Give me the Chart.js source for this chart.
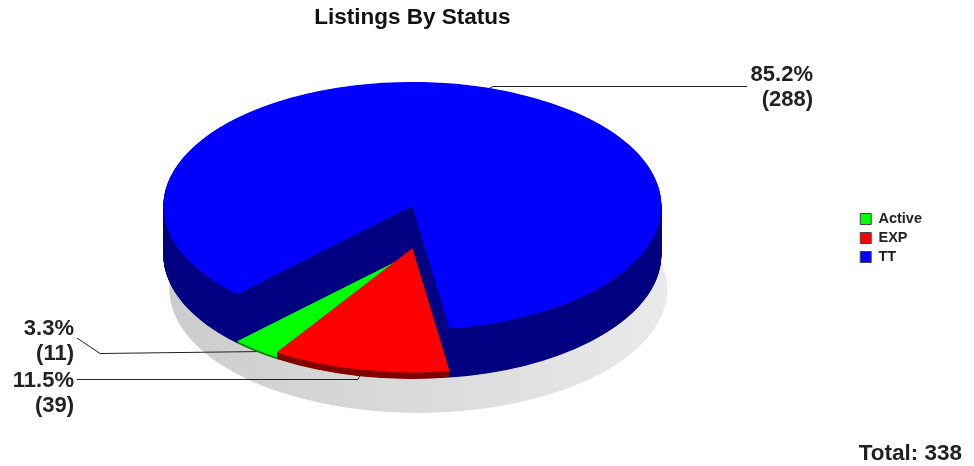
<!DOCTYPE html>
<html>
<head>
<meta charset="utf-8">
<title>Listings By Status</title>
<script src="https://cdn.jsdelivr.net/npm/chart.js@4"></script>
<style>
  html, body { margin: 0; padding: 0; background: #fff; }
  #wrap { position: relative; width: 974px; height: 466px; }
</style>
</head>
<body>
<div id="wrap"><canvas id="chartCanvas"></canvas></div>
<script>
// drawn clockwise from the rotation angle, the legend is reversed to read Active, EXP, TT
const categories = ['TT', 'EXP', 'Active'];
const listingCounts = [288, 39, 11];
const topColors = ['#0000ff', '#ff0000', '#00ff00'];
const sideColors = ['#000080', '#800000', '#008000'];
const totalText = 'Total: 338';

// projection of the pie
const tilt = {cy: 206, rx: 249, ry: 124, depth: 49};
const shadow = {dx: 6, dy: 34};
// painter's order, EXP has to end up over Active
const drawOrder = [0, 2, 1];

// where each label goes, same order as categories
const labelSpots = [
  {right: 813, base: 81, line: [[493, 86.5], [747, 86.5]]},
  {right: 74, base: 387, line: [[358, 379.5], [77, 379.5]]},
  {right: 74, base: 335, line: [[100, 353.5], [77, 338]]},
];
const labelFont = 'bold 22px "Liberation Sans", Arial, sans-serif';

function wedge(ctx, cx, cy, arc) {
  ctx.beginPath();
  ctx.moveTo(cx, cy);
  ctx.ellipse(cx, cy, tilt.rx, tilt.ry, 0, arc.startAngle, arc.endAngle);
  ctx.closePath();
  ctx.fill();
}

const pie3d = {
  id: 'pie3d',
  afterLayout(chart) {
    // the legend sits further right and lower than the space kept for it
    chart.legend.left += 31;
    chart.legend.right += 31;
    chart.legend.top += 3;
    chart.legend.bottom += 3;
  },
  beforeDatasetsDraw(chart) {
    const ctx = chart.ctx;
    const arcs = chart.getDatasetMeta(0).data;
    const cx = arcs[0].x;
    const baseY = tilt.cy + tilt.depth;
    const max = Math.max(...listingCounts);

    // floor shadow
    const grad = ctx.createLinearGradient(cx - tilt.rx, 0, cx + tilt.rx, 0);
    grad.addColorStop(0, '#cccccc');
    grad.addColorStop(1, '#e9e9e9');
    ctx.save();
    ctx.fillStyle = grad;
    ctx.beginPath();
    ctx.ellipse(cx + shadow.dx, baseY + shadow.dy, tilt.rx, tilt.ry, 0, 0, Math.PI * 2);
    ctx.fill();
    ctx.restore();

    // each slice is as tall as its value
    drawOrder.forEach(i => {
      const arc = arcs[i];
      const h = listingCounts[i] / max * tilt.depth;
      ctx.save();
      ctx.fillStyle = sideColors[i];
      for (let d = 0; d < h; d += 0.5) {
        wedge(ctx, cx, baseY - d, arc);
      }
      ctx.translate(cx, baseY - h);
      ctx.scale(tilt.rx / arc.outerRadius, tilt.ry / arc.outerRadius);
      ctx.translate(-arc.x, -arc.y);
      arc.draw(ctx);
      ctx.restore();
    });
    return false;
  },
  afterDraw(chart) {
    const ctx = chart.ctx;
    const arcs = chart.getDatasetMeta(0).data;
    const total = listingCounts.reduce((a, b) => a + b, 0);
    const baseY = tilt.cy + tilt.depth;

    ctx.save();
    arcs.forEach((arc, i) => {
      const spot = labelSpots[i];
      const mid = (arc.startAngle + arc.endAngle) / 2;
      const startY = Math.sin(mid) > 0 ? baseY : tilt.cy;
      ctx.strokeStyle = '#222222';
      ctx.lineWidth = 1;
      ctx.beginPath();
      ctx.moveTo(arc.x + tilt.rx * Math.cos(mid), startY + tilt.ry * Math.sin(mid));
      spot.line.forEach(p => ctx.lineTo(p[0], p[1]));
      ctx.stroke();

      ctx.fillStyle = '#222222';
      ctx.font = labelFont;
      ctx.textAlign = 'right';
      ctx.textBaseline = 'alphabetic';
      ctx.fillText((listingCounts[i] / total * 100).toFixed(1) + '%', spot.right, spot.base);
      ctx.fillText('(' + listingCounts[i] + ')', spot.right, spot.base + 25);
    });
    ctx.font = 'bold 22.5px "Liberation Sans", Arial, sans-serif';
    ctx.fillText(totalText, 962, 460);
    ctx.restore();
  },
};

new Chart(document.getElementById('chartCanvas'), {
  type: 'pie',
  data: {
    labels: categories,
    datasets: [{
      data: listingCounts,
      backgroundColor: topColors,
      borderWidth: 0,
      rotation: 224.7,
    }],
  },
  options: {
    responsive: true,
    maintainAspectRatio: false,
    animation: false,
    layout: {padding: {top: 4, right: 73}},
    plugins: {
      title: {
        display: true,
        text: 'Listings By Status',
        fullSize: false,
        color: '#111111',
        padding: 0,
        font: {family: '"Liberation Sans", Arial, sans-serif', size: 22.5, weight: 'bold'},
      },
      legend: {
        position: 'right',
        reverse: true,
        labels: {
          boxWidth: 11,
          boxHeight: 11,
          padding: 4.5,
          color: '#222222',
          font: {family: '"Liberation Sans", Arial, sans-serif', size: 14.5, weight: 'bold'},
          generateLabels(chart) {
            return categories.map((text, i) => ({
              text,
              fillStyle: topColors[i],
              strokeStyle: '#444444',
              lineWidth: 1,
              fontColor: '#222222',
              index: i,
            }));
          },
        },
      },
      tooltip: {enabled: false},
    },
  },
  plugins: [pie3d],
});
</script>
</body>
</html>
